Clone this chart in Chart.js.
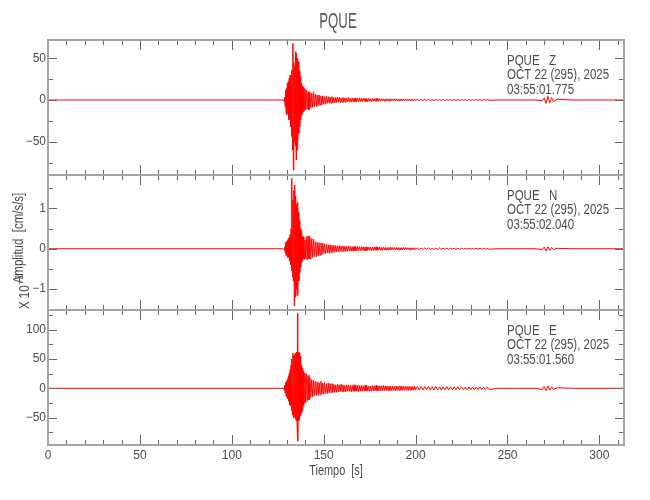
<!DOCTYPE html>
<html>
<head>
<meta charset="utf-8">
<script src="https://cdn.jsdelivr.net/npm/chart.js@4.4.1/dist/chart.umd.min.js"></script>
<style>
html, body { margin: 0; padding: 0; background: #fff; }
#wrap { width: 650px; height: 500px; }
</style>
</head>
<body>
<div id="wrap"><canvas id="sismo" width="650" height="500"></canvas></div>
<script>
var tiempo = [0, 128,
  128.5, 128.75, 129, 129.25, 129.5, 129.75,
  130, 130.25, 130.5, 130.75, 131, 131.25, 131.5, 131.75,
  132, 132.25, 132.5, 132.75, 133, 133.25, 133.5, 133.75,
  134, 134.25, 134.5, 134.75, 135, 135.25, 135.5, 135.75,
  136, 136.25, 136.5, 136.75, 137, 137.25, 137.5, 137.75,
  138, 138.25, 138.5, 138.75, 139, 139.25, 139.5, 139.75, 140,
  140.5, 141, 141.5, 142, 142.5, 143, 143.5, 144, 144.5, 145,
  145.5, 146, 146.5, 147, 147.5, 148, 148.5, 149, 149.5, 150,
  150.5, 151, 151.5, 152, 152.5, 153, 153.5, 154, 154.5, 155,
  155.5, 156, 156.5, 157, 157.5, 158, 158.5, 159, 159.5, 160,
  160.5, 161, 161.5, 162, 162.5, 163, 163.5, 164, 164.5, 165,
  165.5, 166, 166.5, 167, 167.5, 168, 168.5, 169, 169.5, 170,
  170.5, 171, 171.5, 172, 172.5, 173, 173.5, 174, 174.5, 175,
  175.5, 176, 176.5, 177, 177.5, 178, 178.5, 179, 179.5, 180,
  180.5, 181, 181.5, 182, 182.5, 183, 183.5, 184, 184.5, 185,
  185.5, 186, 186.5, 187, 187.5, 188, 188.5, 189, 189.5, 190,
  190.5, 191, 191.5, 192, 192.5, 193, 193.5, 194, 194.5, 195,
  195.5, 196, 196.5, 197, 197.5, 198, 198.5, 199, 199.5, 200,
  201, 202, 203, 204, 205, 206, 207, 208, 209, 210,
  211, 212, 213, 214, 215, 216, 217, 218, 219, 220,
  221, 222, 223, 224, 225, 226, 227, 228, 229, 230,
  231, 232, 233, 234, 235, 236, 237, 238, 239, 240,
  245, 255, 265, 269, 270, 271, 272, 273, 274, 275, 277, 285, 313];

var compZ = [0, 0,
  -2, 3, -8, 12, -15, 14,
  -18, 20, -16, 22, -24, 26, -22, 30,
  -32, 28, -44, 36, -60, 68, -84, 45,
  -50, 40, -55, 58, -72, 56, -60, 50,
  -48, 46, -40, 35, -32, 28, -24, 20,
  -18, 16, -17, 15, -14, 16, -13, 14, -12,
  12, -11, 10, -12, 9, -10, 8, -9, 10, -8,
  7, -8, 6, -7, 6, -6, 5, -6, 5, -5,
  4, -5, 5, -4, 4, -4, 3.5, -4, 4, -3.5,
  3, -3.5, 3, -3, 3.5, -3, 3, -3, 2.5, -3,
  3, -2.5, 2.5, -3, 2.5, -2, 3, -2.5, 2, -2.5,
  2.5, -2, 2, -2.5, 2.5, -2, 2, -2, 2.5, -2,
  2, -2, 2, -1.5, 2, -2, 1.5, -2, 2, -1.5,
  1.5, -2, 2, -1.5, 1.5, -1.5, 2, -1.5, 1.5, -1.5,
  1.5, -1.5, 1.5, -1, 1.5, -1.5, 1, -1.5, 1.5, -1,
  1, -1.5, 1.5, -1, 1, -1, 1.5, -1, 1, -1,
  1, -1, 1, -1, 1.2, -1, 1, -0.8, 1, -1,
  0.8, -1, 1, -0.8, 0.8, -0.8, 1, -0.8, 0.8, -0.8,
  0.8, -0.8, 0.8, -0.8, 0.8, -0.6, 0.8, -0.8, 0.6, -0.8,
  0.6, -0.6, 0.8, -0.6, 0.6, -0.6, 0.6, -0.6, 0.6, -0.5,
  0.6, -0.6, 0.5, -0.6, 0.6, -0.5, 0.5, -0.5, 0.6, -0.5,
  0.5, -0.5, 0.5, -0.5, 0.5, -0.5, 0.5, -0.4, 0.5, -0.4,
  0, 0, 0, -1, 2.5, -4, 4.5, -3.5, 3, -2, 1, 0, 0];

var compN = [0, 0,
  -0.03, 0.05, -0.1, 0.15, -0.17, 0.18,
  -0.15, 0.2, -0.22, 0.25, -0.2, 0.28, -0.3, 0.35,
  -0.4, 0.5, -0.55, 1.75, -0.7, 1.2, -0.8, 1.45,
  -1.42, 1.58, -1.2, 1.3, -1.0, 1.1, -1.17, 1.16,
  -1.12, 0.9, -0.8, 0.7, -0.6, 0.5, -0.46, 0.45,
  -0.35, 0.3, -0.3, 0.28, -0.25, 0.3, -0.26, 0.22, -0.24,
  0.3, -0.28, 0.32, -0.25, 0.28, -0.26, 0.25, -0.22, 0.24, -0.2,
  0.18, -0.2, 0.16, -0.18, 0.15, -0.16, 0.14, -0.15, 0.14, -0.12,
  0.12, -0.12, 0.11, -0.1, 0.1, -0.11, 0.1, -0.09, 0.09, -0.09,
  0.08, -0.09, 0.08, -0.08, 0.07, -0.08, 0.08, -0.07, 0.07, -0.07,
  0.07, -0.06, 0.06, -0.07, 0.06, -0.06, 0.07, -0.05, 0.06, -0.06,
  0.05, -0.06, 0.06, -0.05, 0.05, -0.05, 0.06, -0.05, 0.05, -0.05,
  0.05, -0.04, 0.05, -0.05, 0.04, -0.05, 0.05, -0.04, 0.04, -0.04,
  0.04, -0.05, 0.04, -0.04, 0.04, -0.04, 0.05, -0.04, 0.04, -0.03,
  0.04, -0.04, 0.03, -0.04, 0.04, -0.03, 0.03, -0.04, 0.03, -0.03,
  0.03, -0.03, 0.04, -0.03, 0.03, -0.03, 0.03, -0.03, 0.03, -0.025,
  0.03, -0.03, 0.025, -0.03, 0.025, -0.025, 0.03, -0.025, 0.025, -0.025,
  0.025, -0.02, 0.025, -0.025, 0.02, -0.025, 0.02, -0.02, 0.025, -0.02,
  0.02, -0.02, 0.02, -0.02, 0.02, -0.015, 0.02, -0.02, 0.015, -0.02,
  0.015, -0.015, 0.02, -0.015, 0.015, -0.015, 0.015, -0.015, 0.015, -0.01,
  0.015, -0.015, 0.01, -0.015, 0.015, -0.01, 0.01, -0.01, 0.015, -0.01,
  0.01, -0.01, 0.01, -0.01, 0.01, -0.01, 0.01, -0.01, 0.01, -0.01,
  0, 0, 0, -0.02, 0.04, -0.06, 0.05, -0.04, 0.03, -0.02, 0.01, 0, 0];

var compE = [0, 0,
  -3, 5, -8, 10, -11, 12,
  -14, 15, -18, 20, -22, 25, -28, 32,
  -30, 40, -38, 50, -45, 60, -50, 55,
  -48, 58, -52, 60, -55, 62, -60, 128,
  -90, 62, -55, 60, -48, 55, -45, 40,
  -42, 35, -38, 30, -30, 28, -25, 26, -24,
  25, -22, 22, -20, 18, -16, 15, -15, 14, -13,
  12, -12, 11, -12, 10, -11, 12, -10, 9, -10,
  10, -9, 8, -9, 9, -8, 8, -7, 8, -7,
  7, -7, 6, -7, 7, -6, 6, -6, 7, -6,
  6, -6, 5, -6, 6, -5, 6, -5, 5, -6,
  5, -5, 6, -5, 5, -5, 5, -6, 5, -5,
  5, -5, 4, -5, 5, -4, 5, -5, 4, -5,
  4, -5, 5, -4, 4, -4, 5, -4, 4, -4,
  4, -4, 4, -4, 5, -4, 4, -4, 4, -3.5,
  4, -4, 3.5, -4, 4, -3.5, 3.5, -4, 4, -3.5,
  3.5, -3.5, 4, -3.5, 3.5, -3.5, 3.5, -3, 3.5, -3.5,
  3, -3.5, 3.5, -3, 3, -3.5, 3, -3, 3.5, -3,
  3, -3, 3, -3, 3, -2.5, 3, -3, 2.5, -3,
  3, -2.5, 2.5, -3, 2.5, -2.5, 3, -2.5, 2.5, -2.5,
  2.5, -2.5, 2.5, -2, 2.5, -2.5, 2, -2.5, 2.5, -2,
  2, -2.5, 2, -2, 2.5, -2, 2, -2, 2, -2,
  0, 0, 0, -2, 3, -4, 4, -3, 2.5, -2, 1, 0, 0];

var estacion = 'PQUE';
var componentes = ['Z', 'N', 'E'];
var fecha = 'OCT 22 (295), 2025';
var horas = ['03:55:01.775', '03:55:02.040', '03:55:01.560'];
var yMin = [-90, -1.52, -96.7];
var yMax = [72, 1.83, 133.6];
var pasoMenor = [25, 0.5, 25];
var pasoMayor = [50, 1, 50];
var tMax = 313.4;

var fuente = '"Liberation Sans", Arial, sans-serif';
var colorTexto = '#4a4a4a';
Chart.defaults.font.family = fuente;

var series = [compZ, compN, compE];

function esMultiplo(v, paso) {
  return Math.abs(v / paso - Math.round(v / paso)) < 1e-6;
}

function etiqueta(v) {
  var r = Math.round(v * 1000) / 1000;
  return r < 0 ? '\u2212' + String(-r) : String(r);
}

// texto angosto, parecido a la letra del original
function textoAngosto(ctx, txt, x, y, size, escala, align) {
  ctx.save();
  ctx.translate(x, y);
  ctx.scale(escala, 1);
  ctx.font = size + 'px ' + fuente;
  ctx.textAlign = align || 'left';
  ctx.textBaseline = 'middle';
  ctx.fillText(txt, 0, 0);
  var w = ctx.measureText(txt).width * escala;
  ctx.restore();
  return w;
}

var datasets = series.map(function (arr, k) {
  return {
    label: estacion + ' ' + componentes[k],
    data: tiempo.map(function (t, i) { return { x: t, y: arr[i] }; }),
    yAxisID: 'y' + k,
    borderColor: '#ff0000',
    borderWidth: 1,
    pointRadius: 0,
    fill: false,
    tension: 0
  };
});

var scales = {
  x: {
    type: 'linear',
    min: 0,
    max: tMax,
    grid: { display: false, drawTicks: false },
    border: { display: false },
    ticks: {
      stepSize: 10,
      includeBounds: false,
      autoSkip: false,
      maxRotation: 0,
      padding: 3,
      color: colorTexto,
      font: { size: 12 },
      callback: function (v) { return esMultiplo(v, 50) ? etiqueta(v) : ''; }
    },
    afterFit: function (s) { s.height = 55; }
  }
};

// en orden inverso: el ultimo eje definido queda arriba
[2, 1, 0].forEach(function (k) {
  scales['y' + k] = {
    type: 'linear',
    position: 'left',
    stack: 'sismo',
    stackWeight: 1,
    min: yMin[k],
    max: yMax[k],
    grid: { display: false, drawTicks: false },
    border: { display: false },
    ticks: {
      stepSize: pasoMenor[k],
      includeBounds: false,
      autoSkip: false,
      padding: 2,
      color: colorTexto,
      font: { size: 12 },
      callback: function (v) { return esMultiplo(v, pasoMayor[k]) ? etiqueta(v) : ''; }
    },
    afterFit: function (s) { s.width = 48; }
  };
});

var marcoPlugin = {
  id: 'marco',
  afterDraw: function (chart) {
    var ctx = chart.ctx;
    var area = chart.chartArea;
    var xs = chart.scales.x;
    ctx.save();
    for (var k = 0; k < 3; k++) {
      var ys = chart.scales['y' + k];
      var top = ys.top, bottom = ys.bottom;
      ctx.strokeStyle = '#666';
      ctx.lineWidth = 1;
      ctx.beginPath();
      xs.ticks.forEach(function (tk) {
        if (!esMultiplo(tk.value, 10)) return;
        var px = Math.round(xs.getPixelForValue(tk.value)) + 0.5;
        var len = esMultiplo(tk.value, 50) ? 10 : 5;
        ctx.moveTo(px, top); ctx.lineTo(px, top + len);
        ctx.moveTo(px, bottom); ctx.lineTo(px, bottom - len);
      });
      ys.ticks.forEach(function (tk) {
        if (!esMultiplo(tk.value, pasoMenor[k])) return;
        var py = Math.round(ys.getPixelForValue(tk.value)) + 0.5;
        var len = esMultiplo(tk.value, pasoMayor[k]) ? 9 : 5;
        ctx.moveTo(area.left, py); ctx.lineTo(area.left + len, py);
        ctx.moveTo(area.right, py); ctx.lineTo(area.right - len, py);
      });
      ctx.stroke();
      ctx.strokeStyle = '#a4a4a4';
      ctx.lineWidth = 2;
      ctx.strokeRect(area.left, top, area.right - area.left, bottom - top);

      ctx.fillStyle = colorTexto;
      textoAngosto(ctx, estacion + '   ' + componentes[k], 507, top + 21, 14, 0.82);
      textoAngosto(ctx, fecha, 507, top + 35.5, 14, 0.82);
      textoAngosto(ctx, horas[k], 507, top + 50, 14, 0.82);
    }

    // titulo y rotulos de ejes
    ctx.fillStyle = '#555';
    textoAngosto(ctx, estacion, (area.left + area.right) / 2 + 2, 22, 22, 0.6, 'center');
    ctx.fillStyle = colorTexto;
    textoAngosto(ctx, 'Tiempo  [s]', (area.left + area.right) / 2, 471, 14, 0.78, 'center');

    ctx.save();
    ctx.translate(19, 238);
    ctx.rotate(-Math.PI / 2);
    textoAngosto(ctx, 'Amplitud  [cm/s/s]', 0, 0, 14, 0.82, 'center');
    ctx.restore();

    ctx.save();
    ctx.translate(25, 309);
    ctx.rotate(-Math.PI / 2);
    var w = textoAngosto(ctx, 'X 10', 0, 0, 14, 0.82);
    textoAngosto(ctx, '\u22122', w + 1, -5, 10, 0.82);
    ctx.restore();

    ctx.restore();
  }
};

var sismo = new Chart(document.getElementById('sismo'), {
  type: 'line',
  data: { datasets: datasets },
  options: {
    responsive: false,
    animation: false,
    devicePixelRatio: 1,
    layout: { padding: { left: 0, right: 26, top: 40, bottom: 0 } },
    plugins: {
      legend: { display: false },
      tooltip: { enabled: false },
      title: { display: false }
    },
    scales: scales
  },
  plugins: [marcoPlugin]
});
</script>
</body>
</html>
